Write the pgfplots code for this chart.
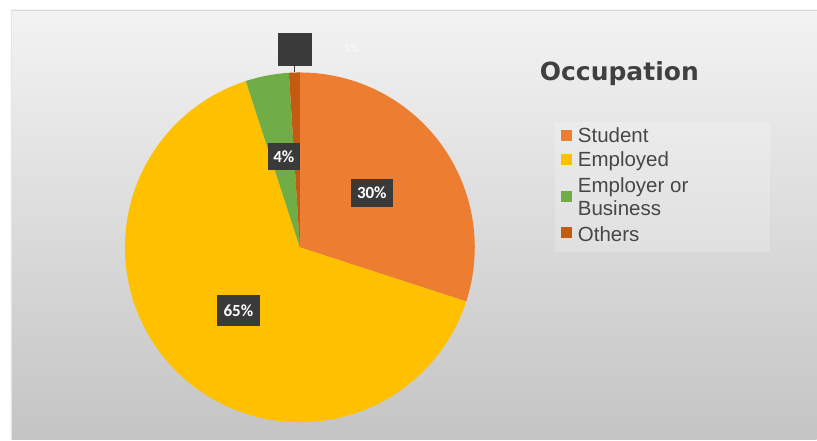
\documentclass[border=0pt]{standalone}
\usepackage{pgfplots}
\pgfplotsset{compat=1.18}
\usepackage{fontspec}
\setmainfont{Liberation Sans}
\newfontfamily\labfont{Carlito}
\newfontfamily\ttlfont{DejaVu Sans}
\definecolor{cS}{HTML}{ED7D31}
\definecolor{cE}{HTML}{FFC000}
\definecolor{cB}{HTML}{70AD47}
\definecolor{cO}{HTML}{C55A11}
\definecolor{bgtop}{RGB}{243,243,243}
\definecolor{bgbot}{RGB}{196,196,196}
\definecolor{lblbg}{HTML}{3A3A3A}
\definecolor{legtxt}{HTML}{474747}
\definecolor{ttltxt}{HTML}{404040}
% shares in percent
\def\vS{30}\def\vE{65}\def\vB{4}\def\vO{1}
\pgfmathsetmacro{\aA}{90}
\pgfmathsetmacro{\aB}{\aA-3.6*\vS}
\pgfmathsetmacro{\aC}{\aB-3.6*\vE}
\pgfmathsetmacro{\aD}{\aC-3.6*\vB}
\pgfmathsetmacro{\aE}{\aD-3.6*\vO}
\begin{document}
\begin{tikzpicture}
\fill[white] (0,0) rectangle (817pt,440pt);
\shade[top color=bgtop, bottom color=bgbot] (11pt,0) rectangle (817pt,430pt);
\draw[gray!30, line width=0.8pt] (11pt,430pt) -- (817pt,430pt);
\draw[gray!20, line width=0.6pt] (11pt,0) -- (11pt,430pt);
\begin{axis}[x=1pt, y=1pt, xmin=0, xmax=817, ymin=0, ymax=440,
  hide axis, clip=false, anchor=origin, at={(0,0)}]
% legend panel
\fill[white, opacity=0.2] (axis cs:555,188) rectangle (axis cs:770,318);
% pie slices
\addplot[fill=cS, draw=none, domain=\aB:\aA, samples=80, variable=\t]
  ({300+175*cos(\t)},{192.5+175*sin(\t)}) -- (axis cs:300,192.5) -- cycle;
\addplot[fill=cE, draw=none, domain=\aC:\aB, samples=160, variable=\t]
  ({300+175*cos(\t)},{192.5+175*sin(\t)}) -- (axis cs:300,192.5) -- cycle;
\addplot[fill=cB, draw=none, domain=\aD:\aC, samples=20, variable=\t]
  ({300+175*cos(\t)},{192.5+175*sin(\t)}) -- (axis cs:300,192.5) -- cycle;
\addplot[fill=cO, draw=none, domain=\aE:\aD, samples=10, variable=\t]
  ({300+175*cos(\t)},{192.5+175*sin(\t)}) -- (axis cs:300,192.5) -- cycle;
% data labels
\tikzset{lbl/.style={fill=lblbg, text=white, inner sep=0pt, minimum height=28pt,
  font=\labfont\bfseries\fontsize{17}{19}\selectfont}}
\node[lbl, minimum width=42pt] at (axis cs:372,247) {30\%};
\node[lbl, minimum width=43pt, minimum height=31pt] at (axis cs:238.5,129) {65\%};
\node[lbl, minimum width=32pt, minimum height=27pt] at (axis cs:284,283.5) {4\%};
\draw[lblbg, line width=0.8pt] (axis cs:295,374) -- (axis cs:295,368);
\node[lbl, minimum width=34pt, minimum height=33pt] at (axis cs:295,390.5) {};
\node[text=white, opacity=0.5, font=\labfont\bfseries\fontsize{12}{14}\selectfont]
  at (axis cs:352,392) {1\%};
% title
\node[anchor=base west, inner sep=0pt, text=ttltxt,
  font=\ttlfont\bfseries\fontsize{25}{28}\selectfont] at (axis cs:540,359) {Occupation};
% legend
\fill[cS] (axis cs:561,299) rectangle (axis cs:572,310);
\fill[cE] (axis cs:561,275) rectangle (axis cs:572,286);
\fill[cB] (axis cs:561,238) rectangle (axis cs:572,249);
\fill[cO] (axis cs:561,201.5) rectangle (axis cs:572,212.5);
\tikzset{lg/.style={anchor=base west, inner sep=0pt, text=legtxt,
  font=\fontsize{20.5}{23}\selectfont}}
\node[lg] at (axis cs:578,297) {Student};
\node[lg] at (axis cs:578,273) {Employed};
\node[lg] at (axis cs:578,247) {Employer or};
\node[lg] at (axis cs:578,224) {Business};
\node[lg] at (axis cs:578,198) {Others};
\end{axis}
\end{tikzpicture}
\end{document}
